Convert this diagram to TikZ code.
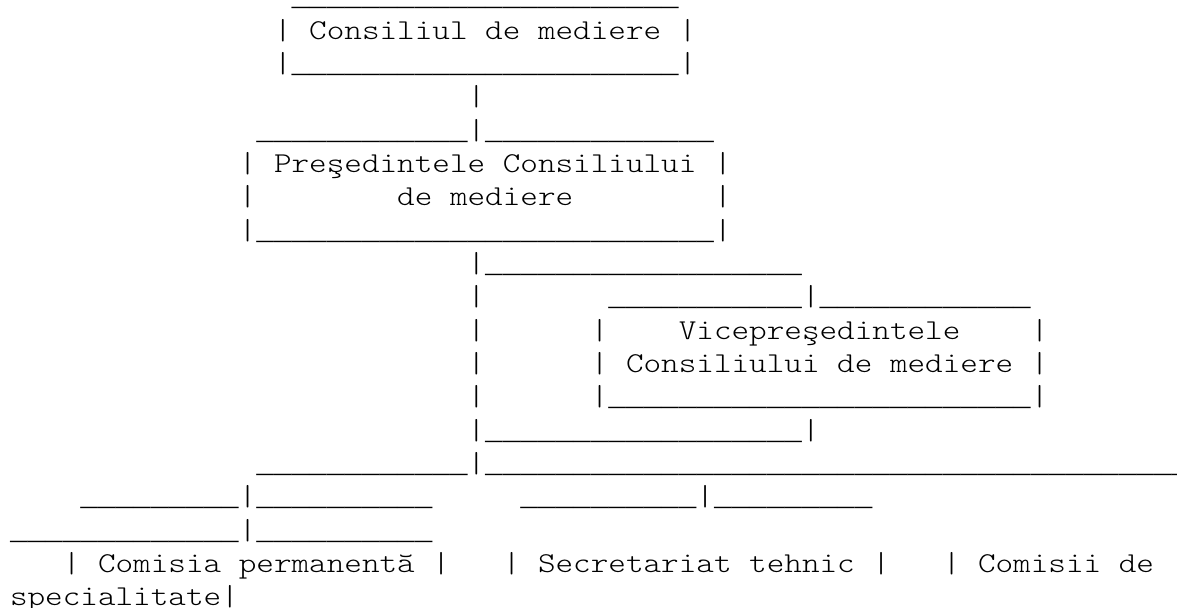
\documentclass[tikz,border=0pt]{standalone}
\usepackage{fontspec}
\newfontfamily\asciifont{lmmonolt10-regular.otf}[FakeStretch=1.16402]
\newfontfamily\usfont{Liberation Mono}
\ExplSyntaxOn
\cs_new:Npn \usc #1 {{\usfont\fontsize{22}{25}\selectfont\prg_replicate:nn{#1}{\_}}}
\ExplSyntaxOff
\newcommand\asciisetup{\asciifont\fontsize{21.6}{25}\selectfont\spaceskip=13.2pt\relax}
\begin{document}
\begin{tikzpicture}[x=13.2pt,y=-25pt,
  asc/.style={anchor=base west, inner sep=0pt, outer sep=0pt, font=\asciisetup}]
\useasboundingbox[fill=white] (-7.5pt,4.3pt) rectangle (875.25pt,-450.95pt);
% box 1
\node[asc] (r0)  at (16,0) {\usc{22}};
\node[asc] (r1)  at (15,1) {| Consiliul de mediere |};
\node[asc] (r2)  at (15,2) {|\usc{22}|};
\node[asc] (r3)  at (26,3) {|};
% box 2
\node[asc] (r4)  at (14,4) {\usc{12}|\usc{13}};
\node[asc] (r5)  at (13,5) {| Preşedintele Consiliului |};
\node[asc] (r6a) at (13,6) {|};
\node[asc] (r6b) at (22,6) {de mediere};
\node[asc] (r6c) at (40,6) {|};
\node[asc] (r7)  at (13,7) {|\usc{26}|};
\node[asc] (r8)  at (26,8) {|\usc{18}};
% box 3
\node[asc] (r9a) at (26,9) {|};
\node[asc] (r9b) at (34,9) {\usc{11}|\usc{12}};
\node[asc] (r10a) at (26,10) {|};
\node[asc] (r10b) at (33,10) {|};
\node[asc] (r10c) at (38,10) {Vicepreşedintele};
\node[asc] (r10d) at (58,10) {|};
\node[asc] (r11a) at (26,11) {|};
\node[asc] (r11b) at (33,11) {| Consiliului de mediere |};
\node[asc] (r12a) at (26,12) {|};
\node[asc] (r12b) at (33,12) {|\usc{24}|};
\node[asc] (r13) at (26,13) {|\usc{18}|};
% lower branches
\node[asc] (r14) at (14,14) {\usc{12}|\usc{40}};
\node[asc] (r15a) at (4,15) {\usc{9}|\usc{10}};
\node[asc] (r15b) at (29,15) {\usc{10}|\usc{9}};
\node[asc] (r16) at (0,16) {\usc{13}|\usc{10}};
\node[asc] (r17a) at (3,17) {| Comisia permanentă |};
\node[asc] (r17b) at (28,17) {| Secretariat tehnic |};
\node[asc] (r17c) at (53,17) {| Comisii de};
\node[asc] (r18) at (0,18) {specialitate|};
\end{tikzpicture}
\end{document}
